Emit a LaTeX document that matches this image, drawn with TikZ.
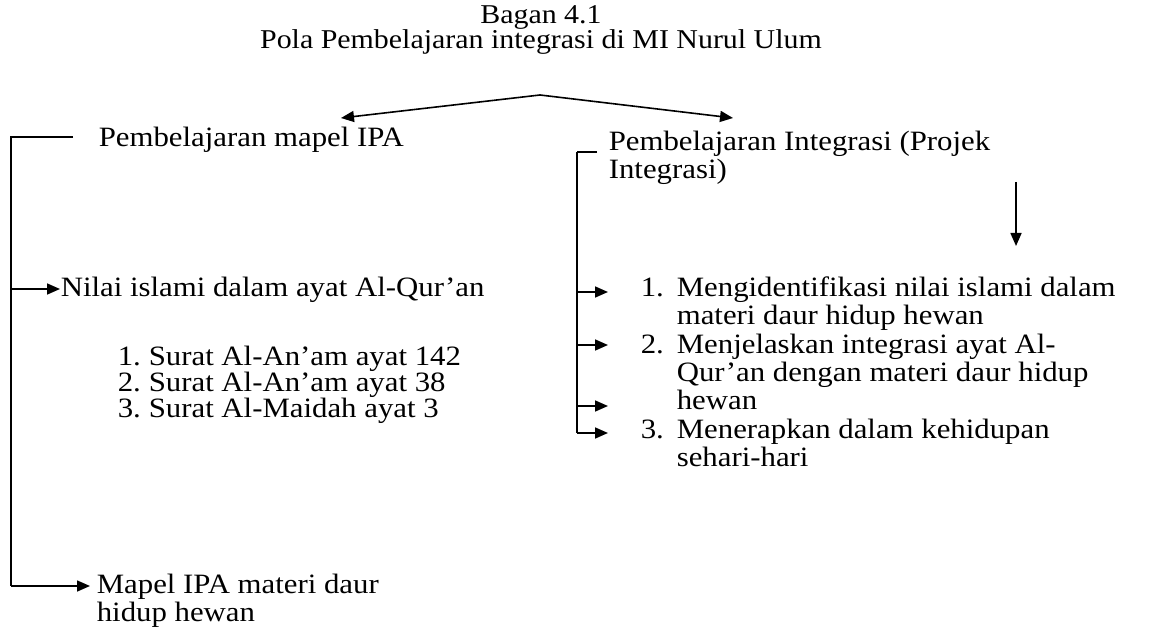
\documentclass[tikz,border=0pt]{standalone}
\usepackage{fontspec}
\setmainfont{Liberation Serif}[FakeStretch=1.1]
\usetikzlibrary{arrows.meta}
\tikzset{>={Triangle[length=6.5pt,width=5.5pt]}}
\tikzset{every text node part/.style={align=left}}
\tikzset{txt/.style={inner sep=0pt, anchor=base west, font=\fontsize{14}{14}\selectfont}}
\tikzset{ttl/.style={inner sep=0pt, anchor=base, font=\fontsize{13.6}{12.5}\selectfont}}

\begin{document}
\begin{tikzpicture}[x=0.5pt, y=-0.5pt, line width=0.8pt, line cap=butt]
	\useasboundingbox (0,0) rectangle (1154,630);

	% Title
	\node[ttl] (bagan) at (541,24) {Bagan 4.1};
	\node[ttl] (pola) at (541,49) {Pola Pembelajaran integrasi di MI Nurul Ulum};

	% Split
	\coordinate (apex) at (540,95);
	\coordinate (tipL) at (341,118);
	\coordinate (tipR) at (733,118);
	\draw[->] (apex) -- (tipL);
	\draw[->] (apex) -- (tipR);

	% Left side (multi-line nodes sit on their last baseline)
	\node[txt] (ipa) at (98,147) {Pembelajaran mapel IPA};
	\node[txt] (nilai) at (60,296) {Nilai islami dalam ayat Al-Qur'an};
	\node[txt] (l1n) at (117,365) {1.};
	\node[txt] (l1) at (148,365) {Surat Al-An'am ayat 142};
	\node[txt] (l2n) at (117,391) {2.};
	\node[txt] (l2) at (148,391) {Surat Al-An'am ayat 38};
	\node[txt] (l3n) at (117,417) {3.};
	\node[txt] (l3) at (148,417) {Surat Al-Maidah ayat 3};
	\node[txt] (mapel) at (96,621) {Mapel IPA materi daur\\hidup hewan};

	\coordinate (lTop) at (11,137);
	\coordinate (lBot) at (11,586);
	\draw (73,137) -- (lTop) -- (lBot);
	\draw[->] (lBot) -- ([xshift=-3pt]mapel.west |- lBot);
	\draw[->] (11,289) -- (nilai.west |- 0,289);

	% Right side
	\node[txt] (integ) at (608,179) {Pembelajaran Integrasi (Projek\\Integrasi)};
	\coordinate (dTop) at (1016,182);
	\coordinate (dBot) at (1016,246);
	\draw[->] (dTop) -- (dBot);

	\node[txt] (r1n) at (640,296) {1.};
	\node[txt] (r1) at (676,324) {Mengidentifikasi nilai islami dalam\\materi daur hidup hewan};
	\node[txt] (r2n) at (640,353) {2.};
	\node[txt] (r2) at (676,409) {Menjelaskan integrasi ayat Al-\\Qur'an dengan materi daur hidup\\hewan};
	\node[txt] (r3n) at (640,438) {3.};
	\node[txt] (r3) at (676,466) {Menerapkan dalam kehidupan\\sehari-hari};

	\coordinate (rTop) at (577,152);
	\coordinate (rBot) at (577,433);
	\draw (597,152) -- (rTop);
	\draw[line width=1.4pt] (rTop) -- (rBot);
	\foreach \y in {292,345,406,433}
		\draw[->] (577,\y) -- (608,\y);
\end{tikzpicture}
\end{document}
